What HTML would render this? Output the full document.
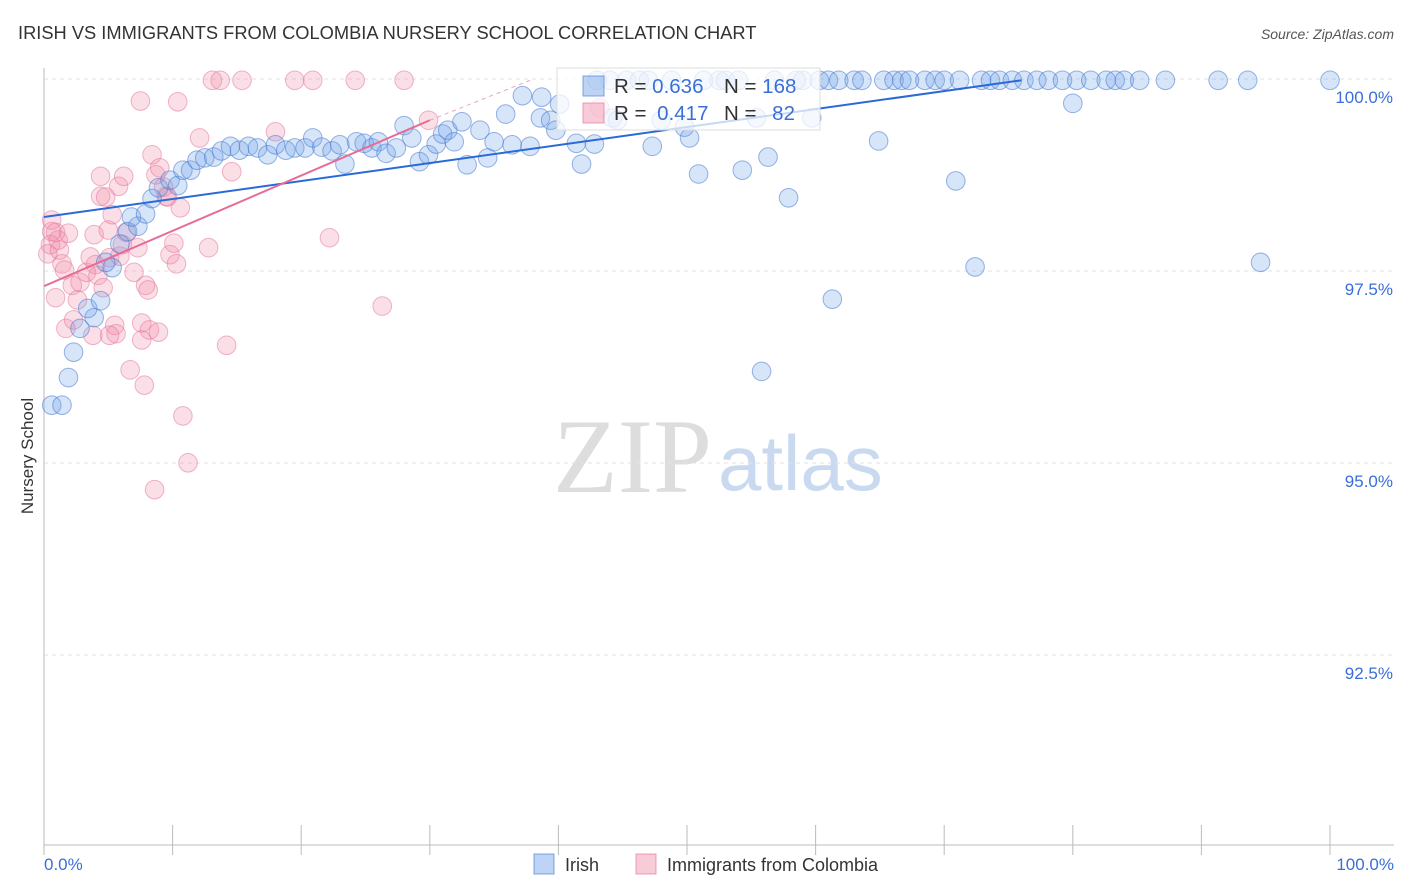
<!DOCTYPE html>
<html><head><meta charset="utf-8"><style>
body{margin:0;background:#fff;font-family:"Liberation Sans",sans-serif;}
svg{display:block}
</style></head><body>
<svg id="chart" width="1406" height="892" xmlns="http://www.w3.org/2000/svg">
<text x="18" y="39" font-size="18.3" fill="#333">IRISH VS IMMIGRANTS FROM COLOMBIA NURSERY SCHOOL CORRELATION CHART</text>
<text x="1394" y="39" font-size="14" fill="#555" text-anchor="end" font-style="italic">Source: ZipAtlas.com</text>
<text x="553" y="492" font-size="106" fill="#ddd" font-family="Liberation Serif,serif">ZIP</text>
<text x="718" y="490" font-size="78" fill="#c9daf0">atlas</text>
<g id="grid"></g>
<g id="axes"></g>
<g id="pts"></g>
<g id="lines"></g>
<text transform="translate(33,456) rotate(-90)" font-size="17" fill="#333" text-anchor="middle">Nursery School</text>
<g>
<rect x="557" y="68" width="263" height="62" fill="rgba(255,255,255,0.75)" stroke="#ddd"/>
<rect x="583" y="76" width="21" height="20" fill="rgba(110,160,230,0.45)" stroke="rgba(80,130,220,0.7)"/>
<rect x="583" y="103" width="21" height="20" fill="rgba(240,140,170,0.45)" stroke="rgba(230,120,160,0.7)"/>
<text x="614" y="93" font-size="20.5" fill="#333">R = <tspan fill="#3a6fd8">0.636</tspan></text>
<text x="724" y="93" font-size="20.5" fill="#333">N = <tspan fill="#3a6fd8">168</tspan></text>
<text x="614" y="120" font-size="20.5" fill="#333">R = <tspan fill="#3a6fd8" dx="5">0.417</tspan></text>
<text x="724" y="120" font-size="20.5" fill="#333">N = <tspan fill="#3a6fd8" dx="10">82</tspan></text>
</g>
<g>
<rect x="534" y="854" width="20" height="20" fill="rgba(110,160,230,0.45)" stroke="rgba(80,130,220,0.7)"/>
<text x="565" y="871" font-size="18" fill="#333">Irish</text>
<rect x="636" y="854" width="20" height="20" fill="rgba(240,140,170,0.45)" stroke="rgba(230,120,160,0.7)"/>
<text x="667" y="871" font-size="18" fill="#333">Immigrants from Colombia</text>
</g>
</svg>
<script>
const yTicks=[100,97.5,95,92.5];
const yTickLabels=["100.0%","97.5%","95.0%","92.5%"];
const xTickLabels=["0.0%","100.0%"];
const blueX=[0.6,1.4,1.9,2.3,2.8,3.9,3.4,4.4,5.3,4.8,5.9,6.5,7.3,6.8,7.9,8.4,8.9,9.8,10.4,10.8,11.4,11.9,12.5,13.2,13.8,14.5,15.2,15.9,16.6,17.4,18.0,18.8,19.5,20.3,20.9,21.6,22.4,23.0,23.4,24.3,24.9,25.5,26.0,26.6,27.4,28.0,28.6,29.2,29.9,30.5,31.0,31.4,31.9,32.5,32.9,33.9,34.5,35.0,35.9,36.4,37.2,37.8,38.6,38.7,39.4,40.1,39.8,41.4,41.8,42.8,44.2,44.6,45.3,46.3,47.3,48.0,49.8,50.2,50.9,51.3,52.5,54.3,55.4,56.3,57.9,59.0,59.7,60.3,61.3,61.0,61.8,63.0,63.6,64.9,65.3,66.1,66.7,67.3,68.5,69.3,70.0,70.9,71.2,72.4,72.9,73.6,74.3,75.3,76.2,77.2,78.1,79.2,80.0,80.3,81.4,82.6,83.3,84.0,85.2,87.2,91.3,93.6,94.6,100.0,55.8,53.0,54.0,48.8,47.0,58.5,56.8,44.0,43.0];
const blueY=[95.74,95.74,96.1,96.43,96.74,96.88,97.0,97.1,97.53,97.6,97.84,98.0,98.07,98.19,98.23,98.43,98.57,98.67,98.6,98.8,98.8,98.93,98.96,98.97,99.05,99.11,99.06,99.11,99.09,99.0,99.13,99.06,99.09,99.09,99.22,99.1,99.05,99.13,98.88,99.17,99.15,99.09,99.17,99.02,99.09,99.38,99.22,98.91,99.0,99.14,99.27,99.32,99.17,99.43,98.87,99.32,98.96,99.17,99.53,99.13,99.77,99.11,99.48,99.75,99.45,99.66,99.32,99.15,98.88,99.14,99.48,99.45,99.97,99.97,99.11,99.45,99.36,99.22,98.75,99.97,99.97,98.8,99.48,98.97,98.44,99.97,99.48,99.97,97.12,99.97,99.97,99.97,99.97,99.18,99.97,99.97,99.97,99.97,99.97,99.97,99.97,98.66,99.97,97.54,99.97,99.97,99.97,99.97,99.97,99.97,99.97,99.97,99.67,99.97,99.97,99.97,99.97,99.97,99.97,99.97,99.97,99.97,97.6,99.97,96.18,99.97,99.97,99.97,99.97,99.97,99.97,99.97,99.97];
const pinkX=[0.6,0.9,1.1,0.5,0.3,1.2,1.9,1.4,0.9,1.6,2.2,1.7,2.3,2.6,2.8,3.3,3.6,3.9,4.0,4.2,4.4,4.4,4.6,4.8,5.0,5.1,5.3,5.5,5.6,5.8,5.9,6.1,6.2,6.4,6.7,7.0,7.3,7.5,7.6,7.8,7.9,8.1,8.2,8.4,8.6,8.7,8.9,9.0,9.3,9.5,9.6,9.8,10.1,10.3,10.4,10.6,10.8,11.2,12.1,12.8,13.1,13.7,14.2,14.6,15.4,18.0,19.5,20.9,22.2,24.2,26.3,28.0,29.9,43.2,7.6,3.8,5.1,0.6];
const pinkY=[98.15,97.99,97.89,97.83,97.71,97.76,97.98,97.58,97.14,97.5,97.3,96.74,96.85,97.11,97.34,97.47,97.67,97.96,97.57,97.43,98.72,98.46,97.27,98.45,98.02,97.66,98.22,96.78,96.67,98.59,97.68,97.83,98.72,97.99,96.2,97.47,97.79,99.7,96.81,96.0,97.3,97.24,96.72,99.0,94.64,98.74,96.69,98.83,98.58,98.46,98.45,97.7,97.85,97.58,99.69,98.31,95.6,94.99,99.22,97.79,99.97,99.97,96.52,98.78,99.97,99.3,99.97,99.97,97.92,99.97,97.03,99.97,99.45,99.61,96.59,96.65,96.65,98.0];
const blueTrend=[[0,98.19],[76,99.97]];
const pinkTrend=[[0,97.29],[30,99.45]];
const pinkDash=[[30,99.45],[37.8,99.97]];

const X0=44,X1=1330,Y100=78,PX_PER_PCT=76.8;
const sx=v=>X0+(X1-X0)*v/100;
const sy=v=>Y100+(100-v)*PX_PER_PCT;
const NS="http://www.w3.org/2000/svg";
function mk(tag,attrs,parent){const e=document.createElementNS(NS,tag);for(const k in attrs)e.setAttribute(k,attrs[k]);parent.appendChild(e);return e;}
const grid=document.getElementById('grid'),axes=document.getElementById('axes'),pts=document.getElementById('pts'),lines=document.getElementById('lines');
yTicks.forEach((t,i)=>{
  const l=mk('line',{x1:X0,x2:1394,y1:sy(t)+1,y2:sy(t)+1,stroke:'#e2e2e2','stroke-dasharray':'4,4'},grid);
  
  
  const tx=mk('text',{x:1393,y:sy(t)+25,'font-size':17,fill:'#3a6fd8','text-anchor':'end'},grid);
  tx.textContent=yTickLabels[i];
  
  
});
const ax=mk('line',{x1:X0,x2:X0,y1:68,y2:845,stroke:'#bbb'},axes);


const bx=mk('line',{x1:X0,x2:1394,y1:845,y2:845,stroke:'#bbb'},axes);


for(let i=0;i<=10;i++){
  const t=mk('line',{x1:sx(i*10),x2:sx(i*10),y1:825,y2:855,stroke:'#bbb'},axes);
  
  
}
[[0,'start',X0],[1,'end',1394]].forEach(([i,a,x])=>{
  const tx=mk('text',{x:x,y:870,'font-size':17,fill:'#3a6fd8','text-anchor':a},axes);
  tx.textContent=xTickLabels[i];
  
  
});
pinkX.forEach((v,i)=>{
  const c=mk('circle',{cx:sx(v),cy:sy(pinkY[i]),r:9.3,fill:'rgba(240,140,170,0.28)',stroke:'rgba(230,120,160,0.55)'},pts);
  
  
});
blueX.forEach((v,i)=>{
  const c=mk('circle',{cx:sx(v),cy:sy(blueY[i]),r:9.3,fill:'rgba(110,160,230,0.28)',stroke:'rgba(70,120,210,0.55)'},pts);
  
  
});
const bl=mk('line',{x1:sx(blueTrend[0][0]),y1:sy(blueTrend[0][1]),x2:sx(blueTrend[1][0]),y2:sy(blueTrend[1][1]),stroke:'#2a6ad8','stroke-width':2},lines);


const pl=mk('line',{x1:sx(pinkTrend[0][0]),y1:sy(pinkTrend[0][1]),x2:sx(pinkTrend[1][0]),y2:sy(pinkTrend[1][1]),stroke:'#e86a95','stroke-width':2},lines);


const pd=mk('line',{x1:sx(pinkDash[0][0]),y1:sy(pinkDash[0][1]),x2:sx(pinkDash[1][0]),y2:sy(pinkDash[1][1]),stroke:'#f0a0bc','stroke-width':1,'stroke-dasharray':'4,4'},lines);


</script>
</body></html>
